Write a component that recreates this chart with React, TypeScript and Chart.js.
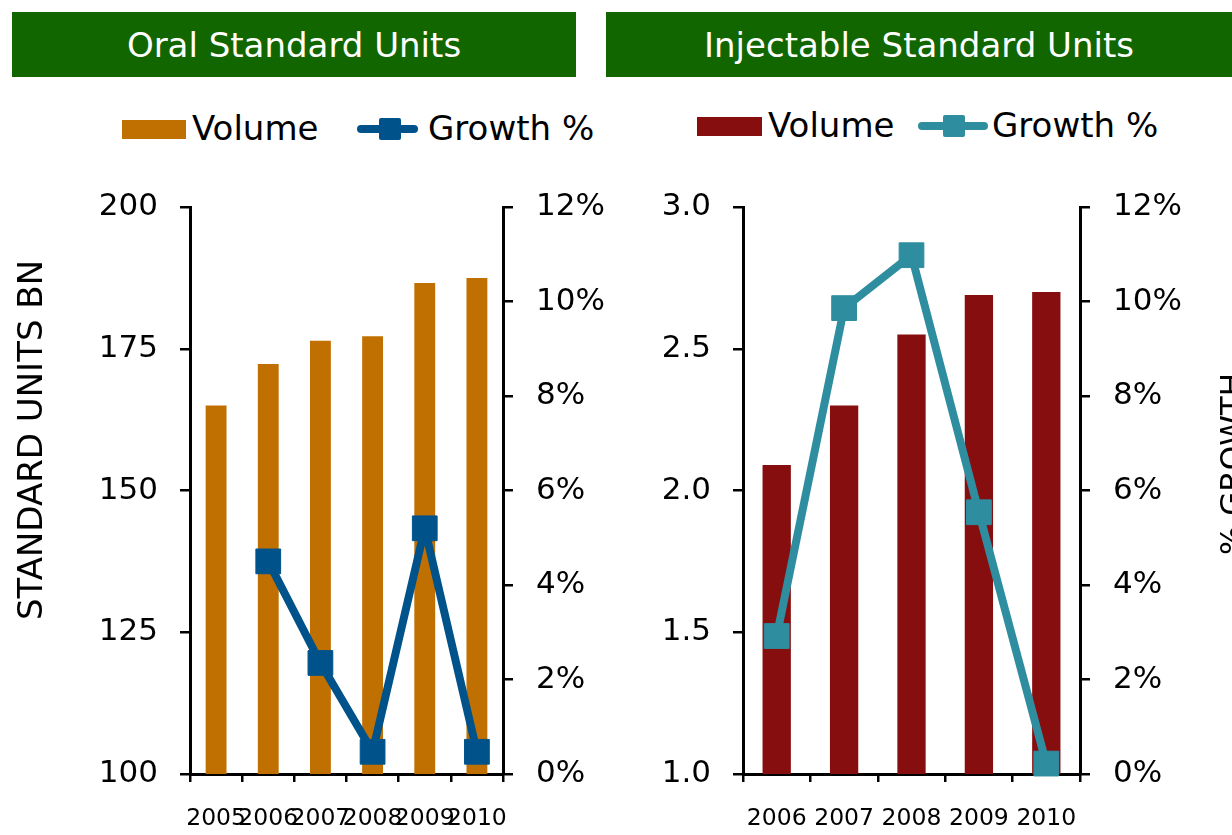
import React, { useEffect, useRef } from 'react';
import { Chart, registerables } from 'chart.js';

Chart.register(...registerables);

const FONT = "'DejaVu Sans', Verdana, sans-serif";

// ---- data ----
const oralYears = ['2005', '2006', '2007', '2008', '2009', '2010'];
const oralVolume = [165.0, 172.3, 176.4, 177.2, 186.6, 187.5];
const oralGrowth = [null, 4.5, 2.35, 0.47, 5.2, 0.47];

const injYears = ['2006', '2007', '2008', '2009', '2010'];
const injVolume = [2.09, 2.3, 2.55, 2.69, 2.7];
const injGrowth = [2.92, 9.86, 10.98, 5.54, 0.22];

const oralTitle = 'Oral Standard Units';
const injTitle = 'Injectable Standard Units';
const leftAxisTitle = 'STANDARD UNITS BN';
const rightAxisTitle = '% GROWTH';

const ORANGE = '#C07000';
const BLUE = '#00538A';
const DARKRED = '#870E0F';
const TEAL = '#2E8EA0';
const GREEN = '#116600';

const axisTitlePlugin = {
  id: 'axisTitles',
  afterDraw(chart: any, _args: any, opts: any) {
    const items = (opts && opts.items) || [];
    const ctx = chart.ctx;
    items.forEach((it: any) => {
      ctx.save();
      ctx.translate(it.x, it.y);
      ctx.rotate(-Math.PI / 2);
      ctx.font = `${it.size}px ${FONT}`;
      ctx.fillStyle = '#000';
      ctx.textAlign = 'center';
      ctx.textBaseline = 'middle';
      ctx.fillText(it.text, 0, 0);
      ctx.restore();
    });
  },
};

function axisCommon(tickFont: number, pad: number, tickLen: number) {
  return {
    grid: {
      display: true,
      drawOnChartArea: false,
      drawTicks: true,
      tickLength: tickLen,
      color: '#000',
      lineWidth: 2.5,
    },
    border: { display: true, color: '#000', width: 3 },
    ticks: {
      color: '#000',
      font: { family: FONT, size: tickFont },
      padding: pad,
    },
  };
}

function buildConfig(
  labels: string[],
  volume: number[],
  growth: (number | null)[],
  barColor: string,
  lineColor: string,
  yMin: number,
  yMax: number,
  yStep: number,
  yDecimals: number,
  leftW: number,
  rightW: number,
  barPct: number,
  titles: any[]
): any {
  const xc = axisCommon(23.5, 23, 8);
  const yc = axisCommon(31, 22, 10);
  const y1c = axisCommon(31, 23, 10);
  return {
    type: 'bar',
    data: {
      labels,
      datasets: [
        {
          type: 'line',
          label: 'Growth %',
          data: growth,
          yAxisID: 'y1',
          borderColor: lineColor,
          backgroundColor: lineColor,
          borderWidth: 8,
          borderJoinStyle: 'round',
          borderCapStyle: 'round',
          pointStyle: 'rect',
          pointRadius: 17.5,
          pointBorderWidth: 1,
          pointBorderColor: lineColor,
          pointBackgroundColor: lineColor,
          order: 0,
          clip: false,
        },
        {
          type: 'bar',
          label: 'Volume',
          data: volume,
          yAxisID: 'y',
          backgroundColor: barColor,
          barPercentage: barPct,
          categoryPercentage: 1,
          order: 1,
        },
      ],
    },
    options: {
      animation: false,
      responsive: false,
      maintainAspectRatio: false,
      layout: { padding: { top: 57, left: 0, right: 0, bottom: 0 } },
      plugins: {
        legend: { display: false },
        tooltip: { enabled: false },
        axisTitles: { items: titles },
      },
      scales: {
        x: {
          ...xc,
          grid: { ...xc.grid, offset: true },
          ticks: { ...xc.ticks, autoSkip: false, maxRotation: 0, minRotation: 0 },
          afterFit: (s: any) => {
            s.height = 61;
          },
        },
        y: {
          ...yc,
          position: 'left',
          min: yMin,
          max: yMax,
          ticks: {
            ...yc.ticks,
            stepSize: yStep,
            callback: (v: any) => Number(v).toFixed(yDecimals),
          },
          afterFit: (s: any) => {
            s.width = leftW;
          },
        },
        y1: {
          ...y1c,
          position: 'right',
          min: 0,
          max: 12,
          ticks: {
            ...y1c.ticks,
            stepSize: 2,
            callback: (v: any) => `${v}%`,
          },
          afterFit: (s: any) => {
            s.width = rightW;
          },
        },
      },
    },
    plugins: [axisTitlePlugin],
  };
}

function ChartCanvas({ config, left, top, width, height }: any) {
  const ref = useRef<HTMLCanvasElement | null>(null);
  useEffect(() => {
    if (!ref.current) return;
    const chart = new Chart(ref.current, config);
    return () => chart.destroy();
  }, []);
  return (
    <canvas
      ref={ref}
      width={width}
      height={height}
      style={{ position: 'absolute', left, top, width, height }}
    />
  );
}

function Header({ text, left, width }: any) {
  return (
    <div
      style={{
        position: 'absolute',
        left,
        top: 12,
        width,
        height: 65,
        background: GREEN,
        color: '#fff',
        fontFamily: FONT,
        fontSize: 34,
        display: 'flex',
        alignItems: 'center',
        justifyContent: 'center',
      }}
    >
      {text}
    </div>
  );
}

function Legend({ cy, boxL, boxW, textL1, lineL, lineW, markL, textL2, barColor, lineColor }: any) {
  const txt = (l: number, s: string) => (
    <div
      style={{
        position: 'absolute',
        left: l,
        top: cy - 21,
        height: 40,
        lineHeight: '40px',
        fontFamily: FONT,
        fontSize: 34,
        color: '#000',
        whiteSpace: 'nowrap',
      }}
    >
      {s}
    </div>
  );
  return (
    <>
      <div style={{ position: 'absolute', left: boxL, top: cy - 9.5, width: boxW, height: 19, background: barColor }} />
      {txt(textL1, 'Volume')}
      <div
        style={{
          position: 'absolute',
          left: lineL,
          top: cy - 4,
          width: lineW,
          height: 8,
          borderRadius: 4,
          background: lineColor,
        }}
      />
      <div
        style={{
          position: 'absolute',
          left: markL,
          top: cy - 11,
          width: 22,
          height: 22,
          borderRadius: 2,
          background: lineColor,
        }}
      />
      {txt(textL2, 'Growth %')}
    </>
  );
}

export default function App() {
  const leftConfig = buildConfig(
    oralYears,
    oralVolume,
    oralGrowth,
    ORANGE,
    BLUE,
    100,
    200,
    25,
    0,
    190,
    137,
    0.4,
    [{ text: leftAxisTitle, x: 33, y: 290, size: 34 }]
  );
  const rightConfig = buildConfig(
    injYears,
    injVolume,
    injGrowth,
    DARKRED,
    TEAL,
    1,
    3,
    0.5,
    1,
    143,
    152,
    0.42,
    [{ text: rightAxisTitle, x: 634, y: 314, size: 31 }]
  );
  return (
    <div style={{ position: 'absolute', left: 0, top: 0, width: 1232, height: 835, background: '#fff', overflow: 'hidden' }}>
      <Header text={oralTitle} left={12} width={564} />
      <Header text={injTitle} left={606} width={626} />
      <Legend
        cy={129}
        boxL={122}
        boxW={64}
        textL1={192}
        lineL={357}
        lineW={61}
        markL={379}
        textL2={428}
        barColor={ORANGE}
        lineColor={BLUE}
      />
      <Legend
        cy={126}
        boxL={697}
        boxW={65}
        textL1={768}
        lineL={918}
        lineW={70}
        markL={943}
        textL2={992}
        barColor={DARKRED}
        lineColor={TEAL}
      />
      <ChartCanvas config={rightConfig} left={600} top={150} width={632} height={685} />
      <ChartCanvas config={leftConfig} left={0} top={150} width={640} height={685} />
    </div>
  );
}
